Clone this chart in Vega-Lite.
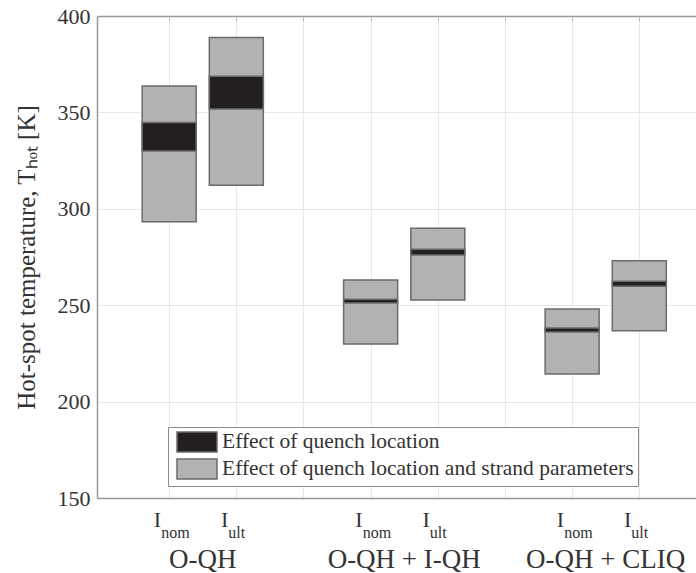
{
  "$schema": "https://vega.github.io/schema/vega-lite/v6.json",
  "width": 599,
  "height": 482,
  "autosize": {"type": "none"},
  "padding": {"left": 97, "top": 16, "right": 0, "bottom": 75},
  "background": "white",
  "config": {
    "font": "Liberation Serif",
    "view": {"stroke": null},
    "axis": {
      "domainColor": "#999999",
      "domainWidth": 1.5,
      "gridColor": "#e8e8e8",
      "gridWidth": 1,
      "ticks": false,
      "labelFont": "Liberation Serif",
      "labelFontSize": 22,
      "labelColor": "#333333",
      "titleFont": "Liberation Serif",
      "titleFontSize": 25,
      "titleFontWeight": "normal",
      "titleColor": "#333333"
    },
    "legend": {
      "orient": "none",
      "legendX": 71,
      "legendY": 411,
      "padding": 4,
      "strokeColor": "#8c8c8c",
      "fillColor": "white",
      "symbolType": "M-2,-1H2V1H-2Z",
      "symbolSize": 400,
      "symbolStrokeColor": "#6b6b6b",
      "symbolStrokeWidth": 1.5,
      "symbolOpacity": 1,
      "symbolOffset": 14,
      "labelOffset": 14,
      "labelLimit": 0,
      "labelFont": "Liberation Serif",
      "labelFontSize": 21.5,
      "labelColor": "#333333",
      "rowPadding": 1,
      "titlePadding": 0
    }
  },
  "datasets": {
    "ranges": [
      {"pos": 1, "lo": 293.3, "hi": 363.7, "effect": "Effect of quench location and strand parameters"},
      {"pos": 2, "lo": 312.2, "hi": 388.8, "effect": "Effect of quench location and strand parameters"},
      {"pos": 4, "lo": 229.9, "hi": 263.1, "effect": "Effect of quench location and strand parameters"},
      {"pos": 5, "lo": 252.7, "hi": 289.9, "effect": "Effect of quench location and strand parameters"},
      {"pos": 7, "lo": 214.3, "hi": 248.0, "effect": "Effect of quench location and strand parameters"},
      {"pos": 8, "lo": 236.8, "hi": 273.0, "effect": "Effect of quench location and strand parameters"},
      {"pos": 1, "lo": 330.0, "hi": 344.7, "effect": "Effect of quench location"},
      {"pos": 2, "lo": 351.8, "hi": 368.7, "effect": "Effect of quench location"},
      {"pos": 4, "lo": 251.1, "hi": 253.1, "effect": "Effect of quench location"},
      {"pos": 5, "lo": 276.0, "hi": 279.0, "effect": "Effect of quench location"},
      {"pos": 7, "lo": 236.1, "hi": 238.2, "effect": "Effect of quench location"},
      {"pos": 8, "lo": 259.8, "hi": 262.4, "effect": "Effect of quench location"}
    ],
    "currents": [
      {"pos": 1, "sub": "nom"},
      {"pos": 2, "sub": "ult"},
      {"pos": 4, "sub": "nom"},
      {"pos": 5, "sub": "ult"},
      {"pos": 7, "sub": "nom"},
      {"pos": 8, "sub": "ult"}
    ],
    "groups": [
      {"gpos": 1.5, "group": "O-QH"},
      {"gpos": 4.5, "group": "O-QH + I-QH"},
      {"gpos": 7.5, "group": "O-QH + CLIQ"}
    ]
  },
  "layer": [
    {
      "data": {"name": "ranges"},
      "mark": {"type": "bar", "width": 54, "stroke": "#6b6b6b", "strokeWidth": 1.5, "opacity": 1},
      "encoding": {
        "x": {
          "field": "pos",
          "type": "quantitative",
          "scale": {"domain": [0, 8.77], "nice": false, "zero": false},
          "axis": {"orient": "bottom", "values": [1, 2, 3, 4, 5, 6, 7, 8], "labels": false, "title": null, "grid": true}
        },
        "y": {
          "field": "lo",
          "type": "quantitative",
          "scale": {"domain": [150, 400], "nice": false, "zero": false},
          "axis": {"values": [150, 200, 250, 300, 350, 400], "title": "Hot-spot temperature, Tₕₒₜ [K]", "labelPadding": 7, "titlePadding": 18, "grid": true}
        },
        "y2": {"field": "hi"},
        "fill": {
          "field": "effect",
          "type": "nominal",
          "scale": {
            "domain": ["Effect of quench location", "Effect of quench location and strand parameters"],
            "range": ["#231f20", "#b2b2b4"]
          },
          "legend": {"title": null}
        }
      }
    },
    {
      "data": {"name": "currents"},
      "mark": {"type": "text", "text": "I", "align": "right", "baseline": "alphabetic", "dx": -8, "dy": 29, "font": "Liberation Serif", "fontSize": 22, "color": "#333333"},
      "encoding": {
        "x": {"field": "pos", "type": "quantitative", "axis": null},
        "y": {"datum": 150, "type": "quantitative"}
      }
    },
    {
      "data": {"name": "currents"},
      "mark": {"type": "text", "align": "left", "baseline": "alphabetic", "dx": -8, "dy": 40, "font": "Liberation Serif", "fontSize": 16, "color": "#333333"},
      "encoding": {
        "x": {"field": "pos", "type": "quantitative", "axis": null},
        "y": {"datum": 150, "type": "quantitative"},
        "text": {"field": "sub"}
      }
    },
    {
      "data": {"name": "groups"},
      "mark": {"type": "text", "align": "center", "baseline": "alphabetic", "dy": 70, "font": "Liberation Serif", "fontSize": 27, "color": "#333333"},
      "encoding": {
        "x": {
          "field": "gpos",
          "type": "quantitative",
          "axis": {"orient": "top", "values": [1, 2, 3, 4, 5, 6, 7, 8], "labels": false, "title": null, "grid": false, "domain": true, "ticks": true, "tickSize": -5, "tickColor": "#bbbbbb"}
        },
        "y": {"datum": 150, "type": "quantitative"},
        "text": {"field": "group"}
      }
    }
  ],
  "resolve": {"axis": {"x": "independent"}}
}
